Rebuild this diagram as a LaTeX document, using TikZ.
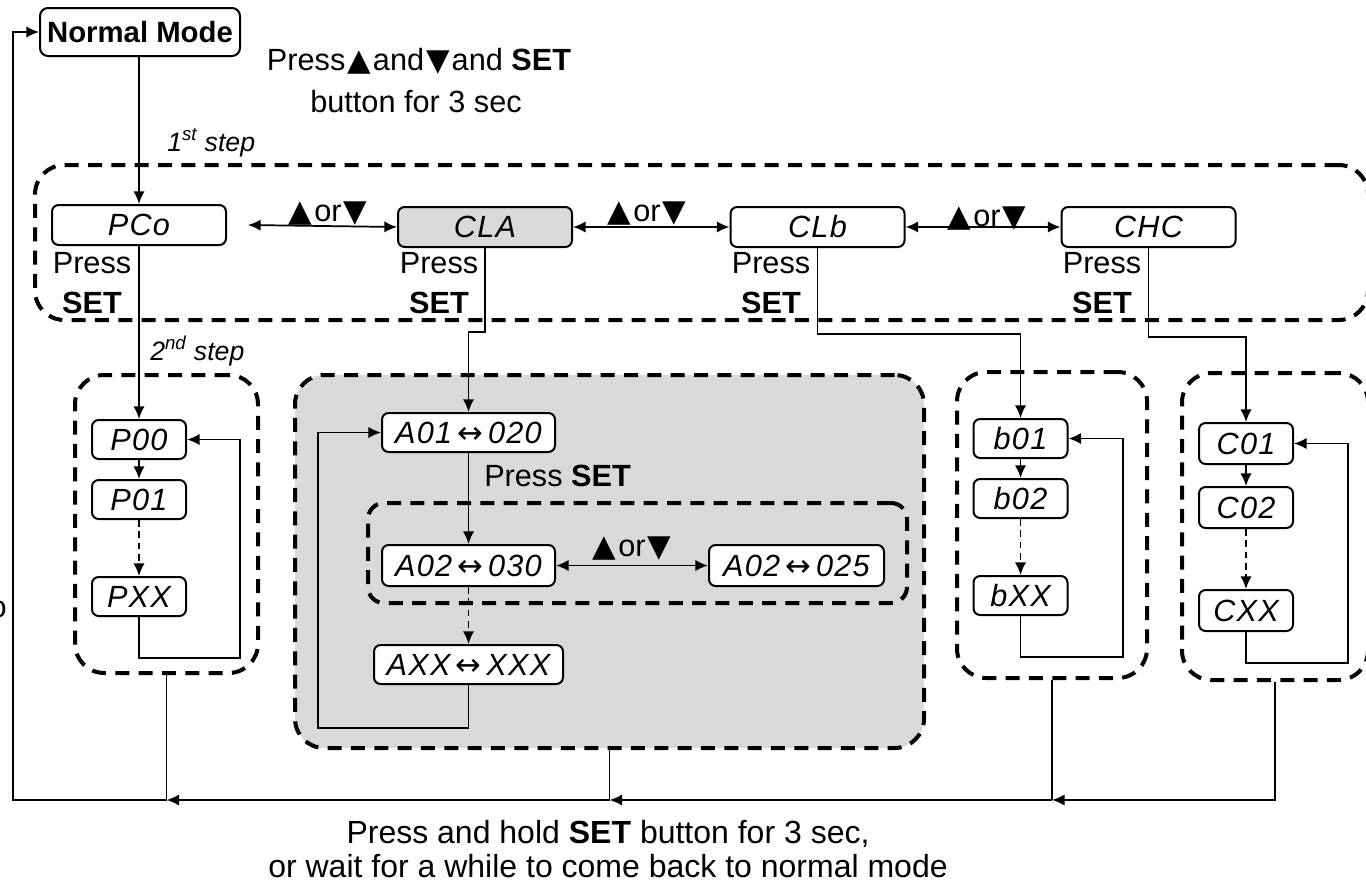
\documentclass[tikz,border=0pt]{standalone}
\usepackage{fontspec}
\setmainfont{Liberation Sans}
\newfontfamily\symfont{DejaVu Sans}
\newfontfamily\segfont[LetterSpace=4]{Liberation Sans}
\usetikzlibrary{arrows.meta}
\definecolor{boxgray}{RGB}{217,217,217}
\newcommand{\up}{\kern1.5pt{\symfont ▲}\kern1.5pt}
\newcommand{\dn}{\kern1.5pt{\symfont ▼}\kern1.5pt}
\newcommand{\lr}{{\upshape\symfont\,↔\,}}
\begin{document}
\begin{tikzpicture}[x=0.75pt,y=-0.75pt,
  box/.style={draw, line width=1.5pt, rounded corners=5pt, fill=white, inner sep=0pt,
    font=\segfont\itshape\fontsize{23}{23}\selectfont},
  topbox/.style={box, minimum width=130.5pt, minimum height=30pt},
  smallbox/.style={box, minimum width=70.5pt, minimum height=29.25pt},
  grp/.style={draw, line width=3pt, dash pattern=on 10.5pt off 7pt, rounded corners=22pt, inner sep=0pt},
  con/.style={line width=1.3pt},
  arr/.style={con, -{Latex[length=9.5pt,width=8.5pt]}},
  darr/.style={con, {Latex[length=9.5pt,width=8.5pt]}-{Latex[length=9.5pt,width=8.5pt]}},
  dotarr/.style={arr, dash pattern=on 5pt off 3.5pt},
  lbl/.style={inner sep=0pt, font=\fontsize{23}{27}\selectfont},
  steplbl/.style={inner sep=0pt, font=\itshape\fontsize{20}{22}\selectfont}
]
\useasboundingbox (0,0) rectangle (1366,885);

% groups
\node[grp, minimum width=999.75pt, minimum height=116.25pt] (G1) at (701.5,242.5) {};
\node[grp, minimum width=137.25pt, minimum height=223.5pt] (Pg) at (166.5,524) {};
\node[grp, fill=boxgray, minimum width=471.75pt, minimum height=279.75pt] (Ag) at (609.5,561.5) {};
\node[grp, rounded corners=12pt, minimum width=404.25pt, minimum height=75pt] (Ai) at (637.5,553) {};
\node[grp, minimum width=142.5pt, minimum height=229.5pt] (bg) at (1052,525) {};
\node[grp, minimum width=139.5pt, minimum height=230.25pt] (Cg) at (1275,526.5) {};

% normal mode
\node[draw, line width=1.5pt, rounded corners=6pt, minimum width=150pt, minimum height=36pt,
  inner sep=0pt, font=\bfseries\fontsize{22}{22}\selectfont] (NM) at (140,32) {Normal Mode};
\node[lbl, anchor=base] (t1) at (419,70) {Press\up and\dn and \textbf{SET}};
\node[lbl, anchor=base] (t2) at (416,112) {button for 3 sec};
\node[steplbl, anchor=base west] (s1) at (167,151) {1\textsuperscript{st} step};
\node[steplbl, anchor=base west] (s2) at (150,360) {2\textsuperscript{nd} step};

% top row
\node[topbox] (PCo) at (139,225) {PCo};
\node[topbox, fill=boxgray] (CLA) at (485,227) {CLA};
\node[topbox] (CLb) at (817.5,227) {CLb};
\node[topbox] (CHC) at (1148.5,227) {CHC};

\draw[darr] ([xshift=15.75pt]PCo.east) -- (CLA.west);
\draw[darr] (CLA.east) -- (CLb.west);
\draw[darr] (CLb.east) -- (CHC.west);
\node[lbl, anchor=base] (o1) at (328,221) {\up or\dn};
\node[lbl, anchor=base] (o2) at (647,221) {\up or\dn};
\node[lbl, anchor=base] (o3) at (987,226) {\up or\dn};

\node[lbl, anchor=base] (pr1) at (92,273) {Press};
\node[lbl, anchor=base] (se1) at (92,313) {\textbf{SET}};
\node[lbl, anchor=base] (pr2) at (439,273) {Press};
\node[lbl, anchor=base] (se2) at (439,313) {\textbf{SET}};
\node[lbl, anchor=base] (pr3) at (771,273) {Press};
\node[lbl, anchor=base] (se3) at (771,313) {\textbf{SET}};
\node[lbl, anchor=base] (pr4) at (1102,273) {Press};
\node[lbl, anchor=base] (se4) at (1102,313) {\textbf{SET}};

% P group
\node[smallbox] (P00) at (139,439.5) {P00};
\node[smallbox] (P01) at (139,499.5) {P01};
\node[smallbox] (PXX) at (139,596.5) {PXX};
% A group
\node[box, minimum width=129.75pt, minimum height=29.25pt] (A01) at (468.5,432.5) {A01\lr 020};
\node[box, minimum width=129.75pt, minimum height=30.75pt] (A02a) at (468.5,565.5) {A02\lr 030};
\node[box, minimum width=131.25pt, minimum height=30.75pt] (A02b) at (796.5,565.5) {A02\lr 025};
\node[box, minimum width=141.75pt, minimum height=29.25pt] (AXX) at (468.5,664.5) {AXX\lr XXX};
\node[lbl, anchor=base west] (ps) at (484,486) {Press \textbf{SET}};
\node[lbl, anchor=base] (o4) at (632,556) {\up or\dn};
% b group
\node[smallbox] (b01) at (1020.5,438.5) {b01};
\node[smallbox] (b02) at (1020.5,498.5) {b02};
\node[smallbox] (bXX) at (1020.5,595.5) {bXX};
% C group
\node[smallbox, minimum height=30.75pt] (C01) at (1246,443.5) {C01};
\node[smallbox, minimum height=30.75pt] (C02) at (1246,507.5) {C02};
\node[smallbox, minimum height=30.75pt] (CXX) at (1246,610.5) {CXX};

% connectors
\draw[arr] (NM.south -| PCo.north) -- (PCo.north);
\draw[arr] (PCo.south) -- (P00.north);
\draw[arr] (CLA.south) -- ++(0,84) -| (A01.north);
\draw[arr] (CLb.south) -- ++(0,86) -| (b01.north);
\draw[arr] (CHC.south) -- ++(0,89) -| (C01.north);

\draw[arr] (P00) -- (P01);
\draw[dotarr] (P01) -- (PXX);
\draw[arr] (PXX.south) -- ++(0,41) -- ++(101,0) |- (P00.east);

\draw[arr] (A01.south) -- (A02a.north);
\draw[dotarr] (A02a.south) -- (AXX.north);
\draw[arr] (AXX.south) -- ++(0,43) -- ++(-150.5,0) |- (A01.west);
\draw[darr] (A02a.east) -- (A02b.west);

\draw[arr] (b01) -- (b02);
\draw[dotarr] (b02) -- (bXX);
\draw[arr] (bXX.south) -- ++(0,41) -- ++(102.5,0) |- (b01.east);

\draw[arr] (C01) -- (C02);
\draw[dotarr] (C02) -- (CXX);
\draw[arr] (CXX.south) -- ++(0,31) -- ++(102,0) |- (C01.east);

% return path
\coordinate (bot) at (0,800);
\coordinate (j1) at (Pg.south |- bot);
\coordinate (j2) at (Ag.south |- bot);
\coordinate (j3) at (bg.south |- bot);
\coordinate (lc) at (13,800);
\draw[arr] (Cg.south) |- (j3);
\draw[con] (bg.south) -- (j3);
\draw[arr] (j3) -- (j2);
\draw[con] (Ag.south) -- (j2);
\draw[arr] (j2) -- (j1);
\draw[con] (Pg.south) -- (j1);
\draw[arr] (j1) -- (lc) |- (NM.west);

\node[lbl, font=\fontsize{24}{28}\selectfont, anchor=base] (b1) at (608,843) {Press and hold \textbf{SET} button for 3 sec,};
\node[lbl, font=\fontsize{24}{28}\selectfont, anchor=base] (b2) at (608,877) {or wait for a while to come back to normal mode};
\node[lbl, anchor=base east] (frag) at (7,617) {o};
\end{tikzpicture}
\end{document}
